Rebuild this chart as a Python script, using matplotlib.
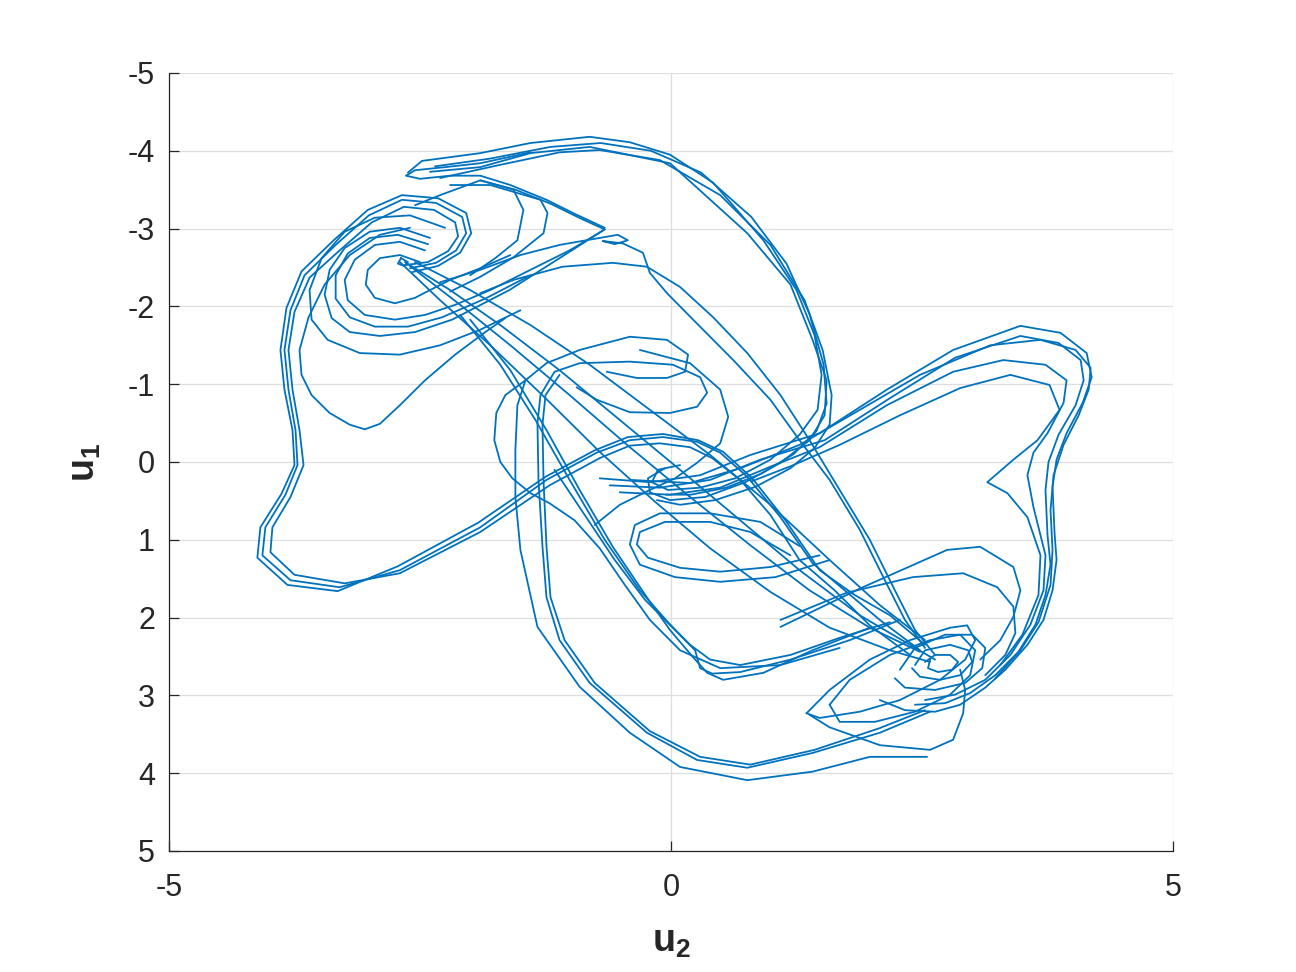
import matplotlib
matplotlib.use("Agg")
import matplotlib.pyplot as plt

plt.rcParams['font.family'] = ['Liberation Sans', 'DejaVu Sans']
plt.rcParams['mathtext.fontset'] = 'custom'
plt.rcParams['mathtext.rm'] = 'Liberation Sans'
plt.rcParams['mathtext.bf'] = 'Liberation Sans:bold'

# ---- traced trajectory strands, (u2, u1) pairs ----
left_lobe_a = [(2.48,2.42),(2.08,2.03),(1.73,1.65),(1.41,1.30),(1.09,0.71),(0.76,0.19),(0.49,-0.12),(0.26,-0.26),(-0.08,-0.32),(-0.41,-0.28),(-0.74,-0.12),(-1.24,0.23),(-1.90,0.84),(-2.70,1.39),(-3.30,1.61),(-3.79,1.52),(-4.07,1.20),(-4.04,0.84),(-3.84,0.42),(-3.72,0.04),(-3.74,-0.41),(-3.81,-0.93),(-3.85,-1.44),(-3.79,-1.95),(-3.65,-2.40),(-3.34,-2.79),(-3.01,-3.17),(-2.68,-3.37),(-2.34,-3.33),(-2.08,-3.15),(-2.04,-2.94),(-2.14,-2.72),(-2.34,-2.56),(-2.60,-2.49)]
left_lobe_b = [(2.38,2.48),(1.98,2.10),(1.63,1.65),(1.28,1.26),(0.99,0.68),(0.69,0.23),(0.41,-0.05),(0.19,-0.19),(-0.11,-0.24),(-0.41,-0.21),(-0.71,-0.05),(-1.21,0.30),(-1.90,0.90),(-2.70,1.43),(-3.25,1.56),(-3.75,1.45),(-3.99,1.16),(-3.97,0.84),(-3.79,0.45),(-3.66,0.04),(-3.70,-0.41),(-3.77,-0.93),(-3.81,-1.44),(-3.75,-1.93),(-3.60,-2.37),(-3.30,-2.72),(-2.98,-3.08),(-2.66,-3.28),(-2.36,-3.24),(-2.15,-3.08),(-2.12,-2.90),(-2.22,-2.71),(-2.42,-2.57),(-2.65,-2.53)]
left_lobe_c = [(2.53,2.35),(2.18,1.97),(1.83,1.71),(1.48,1.39),(1.14,0.75),(0.81,0.21),(0.52,-0.13),(0.27,-0.28),(-0.08,-0.36),(-0.43,-0.32),(-0.76,-0.15),(-1.25,0.19),(-1.92,0.78),(-2.72,1.34),(-3.32,1.66),(-3.82,1.58),(-4.12,1.23),(-4.09,0.84),(-3.88,0.41),(-3.75,0.04),(-3.77,-0.41),(-3.85,-0.93),(-3.89,-1.44),(-3.83,-1.98),(-3.68,-2.45),(-3.36,-2.85),(-3.02,-3.24),(-2.68,-3.43),(-2.32,-3.39),(-2.04,-3.20),(-1.99,-2.94),(-2.10,-2.69),(-2.32,-2.52),(-2.58,-2.44)]
left_dip = [(-2.60,-3.01),(-2.90,-2.92),(-3.20,-2.66),(-3.45,-2.28),(-3.61,-1.86),(-3.70,-1.44),(-3.68,-1.12),(-3.58,-0.86),(-3.40,-0.63),(-3.20,-0.48),(-3.05,-0.42),(-2.90,-0.49),(-2.70,-0.73),(-2.45,-1.05),(-2.15,-1.38),(-1.85,-1.67),(-1.65,-1.85)]
left_ring_a = [(-2.50,-2.57),(-2.70,-2.66),(-2.90,-2.62),(-3.02,-2.47),(-3.04,-2.28),(-2.95,-2.11),(-2.75,-2.04),(-2.55,-2.11),(-2.40,-2.21),(-2.20,-2.34),(-1.90,-2.49),(-1.60,-2.66)]
left_ring_b = [(-2.45,-2.72),(-2.70,-2.83),(-2.95,-2.79),(-3.15,-2.60),(-3.25,-2.34),(-3.22,-2.08),(-3.05,-1.89),(-2.75,-1.83),(-2.45,-1.89),(-2.15,-2.02),(-1.80,-2.21),(-1.40,-2.47),(-1.01,-2.72)]
left_ring_c = [(-2.40,-2.88),(-2.70,-3.01),(-3.00,-2.96),(-3.25,-2.75),(-3.40,-2.47),(-3.45,-2.15),(-3.38,-1.85),(-3.20,-1.67),(-2.90,-1.62),(-2.55,-1.67),(-2.18,-1.83),(-1.61,-2.21),(-1.11,-2.62),(-0.66,-2.99)]
left_ring_d = [(-2.25,-3.01),(-2.60,-3.17),(-2.95,-3.14),(-3.25,-2.96),(-3.48,-2.62),(-3.60,-2.21),(-3.58,-1.83),(-3.42,-1.57),(-3.10,-1.40),(-2.70,-1.38),(-2.30,-1.50),(-1.90,-1.70),(-1.50,-1.95)]
left_ring_e = [(-2.42,-2.80),(-2.72,-2.92),(-3.00,-2.88),(-3.22,-2.68),(-3.34,-2.40),(-3.34,-2.10),(-3.20,-1.86),(-2.95,-1.74),(-2.62,-1.74),(-2.28,-1.86),(-1.85,-2.10),(-1.40,-2.40)]
left_eye = [(-2.69,-2.62),(-2.62,-2.57),(-2.66,-2.52),(-2.72,-2.55),(-2.69,-2.62)]
v_return = [(-0.66,-3.01),(-0.96,-3.19),(-1.24,-3.37),(-1.60,-3.56),(-1.90,-3.68),(-2.20,-3.68),(-2.50,-3.64),(-2.64,-3.68),(-2.55,-3.75),(-2.25,-3.79),(-1.90,-3.84),(-1.40,-3.98)]
v_in = [(-1.01,-2.72),(-0.80,-2.88),(-0.66,-2.99),(-0.90,-3.13),(-1.20,-3.32),(-1.55,-3.50),(-1.90,-3.62)]
upper_loop_a = [(-2.62,-3.72),(-2.48,-3.87),(-1.90,-3.97),(-1.40,-4.10),(-0.81,-4.18),(-0.41,-4.11),(-0.01,-3.95),(0.42,-3.59),(0.92,-2.85),(1.25,-2.21),(1.43,-1.63),(1.50,-1.12),(1.46,-0.67),(1.28,-0.35),(0.99,-0.03),(0.64,0.21),(0.29,0.33),(-0.03,0.36),(-0.19,0.26),(-0.13,0.10),(0.09,0.04)]
upper_loop_b = [(-2.40,-3.73),(-1.90,-3.79),(-1.40,-3.97),(-0.81,-4.05),(-0.01,-3.84),(0.76,-2.94),(1.19,-2.28),(1.41,-1.57),(1.55,-1.05),(1.53,-0.60),(1.38,-0.28),(1.09,0.01),(0.74,0.26),(0.34,0.45),(-0.01,0.49),(-0.21,0.39),(-0.23,0.21),(-0.06,0.08)]
upper_loop_c = [(-2.30,-3.65),(-1.70,-3.82),(-1.11,-3.98),(-0.71,-4.01),(-0.11,-3.88),(0.49,-3.43),(0.99,-2.79),(1.33,-2.08),(1.51,-1.44),(1.60,-0.86),(1.58,-0.48),(1.43,-0.18),(1.19,0.08),(0.84,0.32),(0.44,0.49),(0.09,0.55),(-0.14,0.49)]
upper_loop_d = [(-2.35,-3.80),(-1.80,-3.90),(-1.20,-4.05),(-0.70,-4.10),(-0.20,-4.00),(0.30,-3.72),(0.80,-3.15),(1.15,-2.55),(1.38,-1.90),(1.52,-1.25),(1.55,-0.75),(1.45,-0.40),(1.22,-0.10),(0.90,0.15),(0.55,0.33),(0.20,0.42),(-0.05,0.42)]
tongue_a = [(-2.55,-3.30),(-2.30,-3.43),(-1.90,-3.62),(-1.57,-3.50),(-1.47,-3.24),(-1.53,-2.85),(-1.75,-2.62),(-2.00,-2.40)]
tongue_b = [(-2.20,-3.56),(-1.80,-3.56),(-1.30,-3.37),(-1.23,-3.20),(-1.27,-2.94),(-1.57,-2.63),(-1.90,-2.38),(-2.20,-2.19)]
cross_a = [(-2.30,-2.31),(-1.90,-2.47),(-1.50,-2.66),(-1.11,-2.79),(-0.71,-2.88),(-0.53,-2.92),(-0.43,-2.85),(-0.56,-2.80),(-0.68,-2.84),(-0.48,-2.81),(-0.28,-2.69),(-0.21,-2.43),(-0.04,-2.17),(0.22,-1.83),(0.62,-1.31),(0.99,-0.80),(1.28,-0.28),(1.58,0.23),(1.88,0.87),(2.13,1.52),(2.33,2.03),(2.53,2.39)]
cross_b = [(-1.90,-2.17),(-1.57,-2.34),(-1.08,-2.51),(-0.58,-2.56),(-0.24,-2.51),(0.09,-2.25),(0.42,-1.86),(0.76,-1.40),(1.09,-0.86),(1.38,-0.28),(1.68,0.36),(1.98,1.00),(2.23,1.65),(2.43,2.16),(2.63,2.48)]
diag_a = [(-2.65,-2.57),(-2.20,-2.21),(-1.70,-1.76),(-1.11,-1.18),(-0.51,-0.54),(0.09,0.10),(0.69,0.75),(1.28,1.39),(1.88,1.97),(2.38,2.35),(2.63,2.54)]
diag_b = [(-2.60,-2.52),(-2.10,-2.02),(-1.60,-1.50),(-1.01,-0.86),(-0.41,-0.19),(0.19,0.45),(0.79,1.07),(1.38,1.65),(1.98,2.13),(2.48,2.44)]
diag_c = [(-2.70,-2.57),(-2.30,-2.08),(-1.80,-1.50),(-1.25,-0.82),(-0.71,-0.13),(-0.16,0.51),(0.39,1.11),(0.99,1.67),(1.58,2.13),(2.18,2.42),(2.58,2.57)]
diag_d = [(-2.55,-2.57),(-2.00,-2.21),(-1.40,-1.76),(-0.81,-1.25),(-0.21,-0.67),(0.39,-0.09),(0.99,0.55),(1.58,1.26),(2.08,1.84),(2.53,2.29)]
steep_a = [(-2.00,-1.83),(-1.60,-1.18),(-1.24,-0.41),(-0.91,0.36),(-0.58,1.09),(-0.24,1.74),(-0.01,2.16),(0.22,2.51),(0.36,2.71),(0.52,2.80),(0.92,2.71),(1.41,2.42),(1.98,2.13)]
steep_b = [(-2.10,-1.89),(-1.70,-1.25),(-1.35,-0.54),(-1.01,0.23),(-0.66,1.00),(-0.31,1.65),(-0.03,2.06),(0.19,2.35),(0.39,2.54),(0.69,2.61),(1.19,2.48),(1.68,2.26),(2.18,2.06)]
steep_c = [(-1.16,0.10),(-0.86,0.68),(-0.56,1.26),(-0.26,1.77),(0.04,2.16),(0.24,2.42),(0.29,2.65),(0.41,2.72),(0.69,2.70),(1.19,2.54),(1.78,2.29),(2.28,2.03)]
lower_loop_a = [(-0.64,-1.16),(-0.34,-1.08),(-0.04,-1.08),(0.14,-1.16),(0.17,-1.38),(-0.04,-1.57),(-0.41,-1.61),(-0.91,-1.44),(-1.24,-1.27),(-1.45,-1.05),(-1.53,-0.73),(-1.55,-0.15),(-1.55,0.45),(-1.50,1.13),(-1.33,2.12),(-0.91,2.89),(-0.41,3.48),(0.09,3.92),(0.76,4.09),(1.41,3.98),(1.98,3.79),(2.55,3.79)]
lower_loop_b = [(-0.94,-0.96),(-0.74,-0.80),(-0.41,-0.64),(-0.01,-0.63),(0.26,-0.71),(0.36,-0.89),(0.29,-1.09),(0.02,-1.25),(-0.41,-1.29),(-0.91,-1.27),(-1.16,-1.16),(-1.30,-0.86),(-1.33,-0.50),(-1.32,0.23),(-1.28,1.09),(-1.24,1.74),(-1.11,2.29),(-0.81,2.84),(-0.24,3.48),(0.26,3.83),(0.76,3.93),(1.41,3.74),(2.08,3.48),(2.58,3.21)]
lower_loop_c = [(-1.11,-1.12),(-1.25,-0.86),(-1.28,-0.48),(-1.27,0.23),(-1.24,1.09),(-1.20,1.74),(-1.06,2.29),(-0.76,2.84),(-0.21,3.46),(0.29,3.79),(0.79,3.89),(1.43,3.70),(2.08,3.42),(2.53,3.19)]
lower_loop_d = [(-1.45,-1.05),(-1.65,-0.86),(-1.74,-0.63),(-1.76,-0.28),(-1.70,0.00),(-1.58,0.21),(-1.40,0.40),(-1.21,0.53),(-0.96,0.75),(-0.71,1.11),(-0.46,1.58),(-0.21,2.03),(0.09,2.42),(0.49,2.65),(1.09,2.61),(1.68,2.39)]
mid_loop_a = [(1.19,1.20),(0.79,0.90),(0.39,0.77),(-0.06,0.77),(-0.31,0.90),(-0.34,1.06),(-0.23,1.23),(0.09,1.36),(0.49,1.41),(0.99,1.35),(1.48,1.20)]
mid_loop_b = [(1.28,1.08),(0.89,0.77),(0.39,0.66),(-0.11,0.66),(-0.36,0.81),(-0.41,1.06),(-0.31,1.32),(0.04,1.48),(0.49,1.54),(1.04,1.48),(1.58,1.26)]
mid_loop_c = [(-0.31,-1.44),(0.19,-1.27),(0.49,-0.93),(0.57,-0.58),(0.49,-0.24),(0.26,0.01),(0.04,0.21),(-0.21,0.36),(-0.51,0.55),(-0.76,0.81)]
right_eye = [(2.53,2.57),(2.63,2.48),(2.78,2.48),(2.86,2.57),(2.80,2.67),(2.66,2.70),(2.56,2.65),(2.58,2.54)]
right_ring_b = [(2.43,2.61),(2.53,2.42),(2.78,2.35),(2.96,2.42),(3.00,2.57),(2.88,2.74),(2.68,2.80),(2.48,2.76),(2.40,2.65)]
right_ring_c = [(2.28,2.67),(2.43,2.39),(2.73,2.22),(3.00,2.22),(3.13,2.39),(3.10,2.65),(2.93,2.84),(2.63,2.93),(2.33,2.90),(2.23,2.78)]
right_ring_d = [(1.35,3.23),(1.58,2.93),(1.98,2.54),(2.38,2.29),(2.78,2.13),(2.95,2.10),(3.03,2.29),(2.93,2.54),(2.68,2.80),(2.28,3.06),(1.88,3.21),(1.48,3.29),(1.35,3.23)]
right_ring_e = [(1.58,3.12),(1.78,2.80),(2.18,2.48),(2.58,2.29),(2.88,2.22),(3.03,2.42),(2.98,2.74),(2.78,2.99),(2.43,3.21),(2.03,3.34),(1.68,3.34),(1.58,3.12)]
right_ring_f = [(1.38,3.25),(1.58,3.41),(2.08,3.64),(2.58,3.70),(2.81,3.57),(2.91,3.23),(2.93,2.93),(2.88,2.67)]
right_arc_a = [(1.09,2.12),(1.91,1.61),(2.75,1.13),(3.08,1.09),(3.41,1.35),(3.48,1.65),(3.41,1.99),(3.28,2.29),(3.08,2.54)]
right_arc_b = [(1.09,2.03),(1.75,1.68),(2.41,1.48),(2.91,1.43),(3.25,1.61),(3.41,1.86),(3.43,2.20),(3.33,2.48),(3.13,2.74)]
right_lobe_a = [(-0.71,0.21),(-0.21,0.26),(0.29,0.17),(0.79,-0.09),(1.48,-0.37),(2.15,-0.93),(2.81,-1.44),(3.48,-1.75),(3.88,-1.66),(4.14,-1.40),(4.19,-1.09),(4.10,-0.76),(3.94,-0.37),(3.84,-0.03),(3.80,0.32),(3.82,0.91),(3.84,1.26),(3.80,1.65),(3.71,2.03),(3.55,2.35),(3.33,2.67),(3.13,2.90),(2.88,3.12),(2.63,3.21),(2.33,3.19),(2.08,3.06)]
right_lobe_b = [(-0.61,0.30),(-0.11,0.33),(0.39,0.23),(0.89,-0.03),(1.53,-0.28),(2.18,-0.82),(2.83,-1.34),(3.48,-1.62),(3.86,-1.53),(4.08,-1.31),(4.11,-1.05),(4.03,-0.73),(3.86,-0.35),(3.76,0.00),(3.73,0.36),(3.75,0.94),(3.78,1.32),(3.73,1.71),(3.63,2.09),(3.46,2.44),(3.23,2.74),(2.98,2.97),(2.73,3.10),(2.43,3.12)]
right_lobe_c = [(-0.51,0.39),(-0.01,0.42),(0.49,0.33),(0.99,0.06),(1.48,-0.19),(2.15,-0.73),(2.81,-1.16),(3.31,-1.31),(3.73,-1.25),(3.94,-1.05),(3.91,-0.76),(3.75,-0.37),(3.61,-0.12),(3.55,0.17),(3.61,0.58),(3.73,1.20),(3.71,1.65),(3.58,2.09),(3.38,2.48),(3.13,2.80),(2.83,2.99),(2.53,3.06)]
right_lobe_cusp = [(0.80,0.25),(1.20,0.05),(1.68,-0.22),(2.28,-0.60),(2.88,-0.95),(3.38,-1.12),(3.77,-0.99),(3.87,-0.67),(3.65,-0.28),(3.41,-0.03),(3.15,0.26),(3.35,0.40),(3.55,0.71),(3.68,1.20),(3.66,1.71),(3.50,2.22),(3.28,2.61)]
right_lobe_d = [(-0.41,0.23),(0.19,0.27),(0.69,0.08),(1.28,-0.22),(1.88,-0.67),(2.48,-1.12),(3.18,-1.50),(3.68,-1.57),(4.03,-1.44),(4.18,-1.21),(4.16,-0.93),(4.06,-0.60),(3.91,-0.22),(3.81,0.17),(3.78,0.62),(3.80,1.13),(3.78,1.58),(3.66,2.06),(3.48,2.42),(3.23,2.78)]

strands = [left_lobe_a, left_lobe_b, left_lobe_c, left_dip, left_ring_a, left_ring_b,
           left_ring_c, left_ring_d, left_ring_e, left_eye, v_return, v_in, upper_loop_a,
           upper_loop_b, upper_loop_c, upper_loop_d, tongue_a, tongue_b, cross_a, cross_b,
           diag_a, diag_b, diag_c, diag_d, steep_a, steep_b, steep_c, lower_loop_a,
           lower_loop_b, lower_loop_c, lower_loop_d, mid_loop_a, mid_loop_b, mid_loop_c,
           right_eye, right_ring_b, right_ring_c, right_ring_d, right_ring_e, right_ring_f,
           right_arc_a, right_arc_b, right_lobe_a, right_lobe_b, right_lobe_c,
           right_lobe_cusp, right_lobe_d]

x_ticks = [-5, 0, 5]
y_ticks = [-5, -4, -3, -2, -1, 0, 1, 2, 3, 4, 5]

fig = plt.figure(figsize=(12.96, 9.72), dpi=100)
ax = fig.add_axes([0.1304, 0.1245, 0.7747, 0.8004])
line_color = '#0072BD'
for s in strands:
    ax.plot([p[0] for p in s], [p[1] for p in s], color=line_color, lw=1.3,
            solid_joinstyle='round', solid_capstyle='round')

ax.set_xlim(-5, 5)
ax.set_ylim(5, -5)
ax.set_xticks(x_ticks)
ax.set_yticks(y_ticks)
ax.set_xticklabels([str(t) for t in x_ticks])
ax.set_yticklabels([str(t) for t in y_ticks])
ax.grid(True, color='#dedede', lw=0.9)
ax.set_axisbelow(True)
for side in ['top', 'right']:
    ax.spines[side].set_visible(False)
for side in ['left', 'bottom']:
    ax.spines[side].set_color('#262626')
    ax.spines[side].set_linewidth(0.9)
ax.tick_params(axis='both', direction='in', length=7, width=0.9, colors='#262626',
               labelsize=22, top=False, right=False)
ax.tick_params(axis='x', pad=16)
ax.tick_params(axis='y', pad=10)
ax.set_xlabel(r'$\mathbf{u_2}$', fontsize=27, color='#262626', labelpad=15)
ax.set_ylabel(r'$\mathbf{u_1}$', fontsize=27, color='#262626', labelpad=18)

fig.savefig('out.png', dpi=100)
